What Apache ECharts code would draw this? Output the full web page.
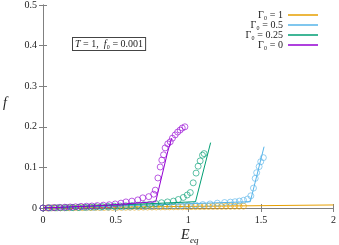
<!DOCTYPE html>
<html><head><meta charset="utf-8">
<script src="https://cdn.jsdelivr.net/npm/echarts@6/dist/echarts.min.js"></script>
<style>html,body{margin:0;padding:0;background:#fff}#c{width:339px;height:245px}</style>
</head><body><div id="c"></div>
<script>
var xTicks = [0, 0.5, 1, 1.5, 2];
var yTicks = [0, 0.1, 0.2, 0.3, 0.4, 0.5];
var names = ['Γ₀ = 1', 'Γ₀ = 0.5', 'Γ₀ = 0.25', 'Γ₀ = 0'];
var colors = ['#e69f00', '#56b4e9', '#009e73', '#9400d3'];

// theory lines
var line1 = [[0,0],[1,0.004],[2,0.0075]];
var line05 = [[0,0],[0.7,0.007],[1.427,0.0155],[1.522,0.151]];
var line025 = [[0,0],[0.5,0.007],[1.05,0.0155],[1.154,0.161]];
var line0 = [[0,0],[0.4,0.006],[0.776,0.0155],[0.858,0.138],[0.886,0.172]];

// simulation points
var pts1 = [[0,0],[0.03,0.0001],[0.06,0.0002],[0.09,0.0003],[0.12,0.0004],[0.15,0.0005],[0.18,0.0006],[0.21,0.0007],[0.24,0.0008],[0.27,0.0009],[0.30,0.001],[0.33,0.0011],[0.36,0.0012],[0.39,0.0013],[0.42,0.0014],[0.45,0.0015],[0.48,0.0016],[0.51,0.0017],[0.54,0.0018],[0.57,0.0019],[0.60,0.002],[0.63,0.0021],[0.66,0.0022],[0.69,0.0023],[0.72,0.0024],[0.75,0.0025],[0.78,0.0026],[0.81,0.0027],[0.84,0.0028],[0.87,0.0029],[0.90,0.003],[0.93,0.0031],[0.96,0.0032],[0.99,0.0033],[1.02,0.0034],[1.05,0.0035],[1.08,0.0036],[1.11,0.0037],[1.14,0.0038],[1.17,0.0039],[1.20,0.004],[1.23,0.0041],[1.26,0.0042],[1.29,0.0043],[1.32,0.0044],[1.35,0.0045],[1.38,0.0046]];
var pts05 = [[0,0],[0.05,0.0002],[0.10,0.0004],[0.15,0.0006],[0.20,0.0008],[0.25,0.001],[0.30,0.0012],[0.35,0.0014],[0.40,0.0016],[0.45,0.0019],[0.50,0.0022],[0.55,0.0025],[0.60,0.0028],[0.65,0.0032],[0.70,0.0036],[0.75,0.004],[0.80,0.0045],[0.85,0.005],[0.90,0.0055],[0.95,0.006],[1.00,0.0067],[1.05,0.0075],[1.10,0.0085],[1.15,0.0100],[1.20,0.012],[1.25,0.0135],[1.29,0.0145],[1.322,0.0155],[1.352,0.017],[1.381,0.019],[1.408,0.022],[1.431,0.030],[1.449,0.049],[1.461,0.073],[1.471,0.087],[1.488,0.102],[1.499,0.114],[1.517,0.124]];
var pts025 = [[0,0],[0.041,0.0003],[0.082,0.0005],[0.122,0.0008],[0.163,0.001],[0.204,0.0013],[0.245,0.0015],[0.286,0.002],[0.327,0.0025],[0.367,0.003],[0.408,0.0035],[0.449,0.004],[0.490,0.0045],[0.531,0.005],[0.571,0.0055],[0.612,0.006],[0.653,0.007],[0.694,0.008],[0.735,0.009],[0.776,0.011],[0.816,0.013],[0.857,0.015],[0.898,0.017],[0.932,0.021],[0.966,0.026],[0.993,0.032],[1.014,0.038],[1.034,0.062],[1.054,0.086],[1.068,0.103],[1.082,0.116],[1.098,0.130],[1.109,0.134]];
var pts0 = [[0,0],[0.037,0.0005],[0.075,0.001],[0.112,0.0015],[0.15,0.002],[0.187,0.0025],[0.224,0.003],[0.262,0.004],[0.30,0.0045],[0.337,0.005],[0.374,0.006],[0.415,0.007],[0.456,0.008],[0.497,0.010],[0.537,0.012],[0.571,0.015],[0.612,0.017],[0.653,0.020],[0.687,0.025],[0.728,0.028],[0.762,0.034],[0.773,0.044],[0.791,0.074],[0.807,0.101],[0.818,0.118],[0.830,0.131],[0.841,0.148],[0.859,0.158],[0.876,0.163],[0.891,0.172],[0.910,0.180],[0.927,0.187],[0.944,0.192],[0.959,0.197],[0.977,0.200]];

var lines = [line1, line05, line025, line0];
var pts = [pts1, pts05, pts025, pts0];

var font = 'Liberation Serif';
var frame = '#808080';
var series = [];
for (var i = 0; i < 4; i++) {
  series.push({
    name: names[i], type: 'line', data: lines[i], symbol: 'none',
    lineStyle: {color: colors[i], width: 1}, itemStyle: {color: colors[i]},
    z: 3 + i, animation: false
  });
}
for (var j = 0; j < 4; j++) {
  series.push({
    name: names[j] + ' sim', type: 'scatter', data: pts[j], symbol: 'circle', symbolSize: 6,
    itemStyle: {color: 'rgba(0,0,0,0)', borderColor: colors[j], borderWidth: 0.8},
    z: 3 + j, animation: false
  });
}

var chart = echarts.init(document.getElementById('c'));
chart.setOption({
  animation: false,
  grid: {left: 43, right: 2, top: 5, bottom: 37},
  legend: {
    data: names, orient: 'vertical', right: 16, top: 5, align: 'right',
    icon: 'rect', itemWidth: 30, itemHeight: 1.5, itemGap: 0,
    textStyle: {fontFamily: font, fontSize: 10, color: '#222', lineHeight: 10, padding: [0, 0, 0, 0]},
    selectedMode: false
  },
  xAxis: [{
    type: 'value', min: 0, max: 2, interval: 0.5,
    axisLine: {lineStyle: {color: frame}},
    axisTick: {inside: true, length: 4, lineStyle: {color: frame}},
    axisLabel: {fontFamily: font, fontSize: 10, color: '#222', margin: 7},
    splitLine: {show: false}
  }, {
    type: 'value', min: 0, max: 2, interval: 0.5, position: 'top',
    axisLine: {show: true, lineStyle: {color: frame}},
    axisTick: {inside: true, length: 4, lineStyle: {color: frame}},
    axisLabel: {show: false}, splitLine: {show: false}
  }],
  yAxis: [{
    type: 'value', min: 0, max: 0.5, interval: 0.1,
    axisLine: {show: true, lineStyle: {color: frame}},
    axisTick: {show: true, inside: true, length: 4, lineStyle: {color: frame}},
    axisLabel: {fontFamily: font, fontSize: 10, color: '#222', margin: 6},
    splitLine: {show: false}
  }, {
    type: 'value', min: 0, max: 0.5, interval: 0.1, position: 'right',
    axisLine: {show: true, lineStyle: {color: frame}},
    axisTick: {show: true, inside: true, length: 4, lineStyle: {color: frame}},
    axisLabel: {show: false}, splitLine: {show: false}
  }],
  series: series,
  graphic: [
    {type: 'text', left: 72, top: 37, z: 10, style: {
      text: '{i|T} = 1,  {i|f}₀ = 0.001', fontFamily: font, fontSize: 10, fill: '#222',
      backgroundColor: '#fff', borderColor: '#444', borderWidth: 1, padding: [1, 2, 1, 2],
      rich: {i: {fontStyle: 'italic', fontFamily: font, fontSize: 10, fill: '#222'}}
    }},
    {type: 'text', left: 181, top: 228, style: {text: 'E', fontFamily: font, fontStyle: 'italic', fontSize: 14, fill: '#222'}},
    {type: 'text', left: 190, top: 236, style: {text: 'eq', fontFamily: font, fontStyle: 'italic', fontSize: 9, fill: '#222'}},
    {type: 'text', left: 3, top: 96, style: {text: 'f', fontFamily: font, fontStyle: 'italic', fontSize: 14, fill: '#222'}}
  ]
});
</script></body></html>
